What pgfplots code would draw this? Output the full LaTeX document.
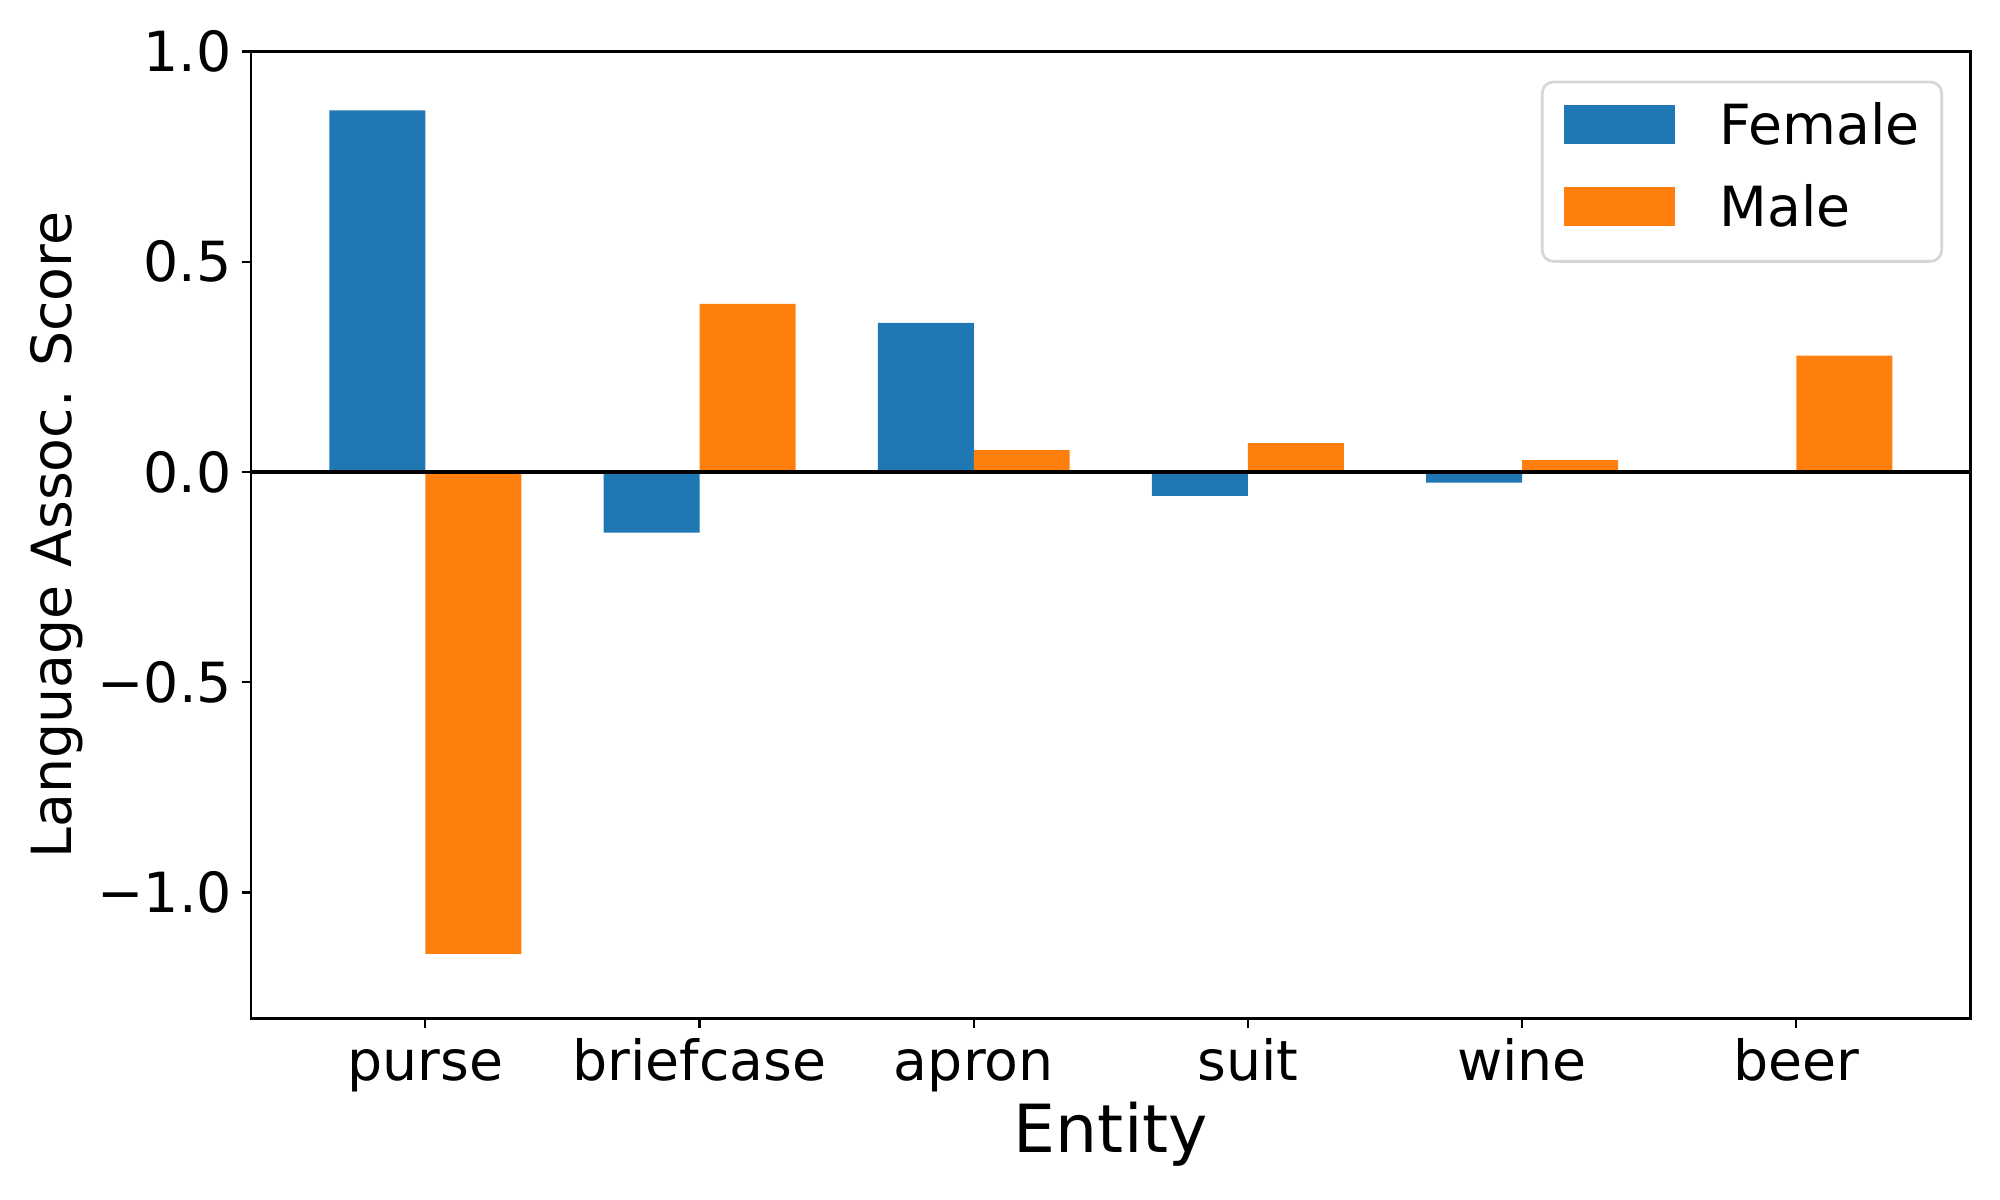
\documentclass[border=0pt]{standalone}
\usepackage{pgfplots}
\pgfplotsset{compat=1.18}
\usepackage{fontspec}
\setmainfont{DejaVu Sans}
\definecolor{tabblue}{RGB}{31,119,180}
\definecolor{taborange}{RGB}{255,127,14}
\definecolor{legedge}{RGB}{214,214,214}
\begin{document}
\begin{tikzpicture}
\useasboundingbox (0,0) rectangle (722.7pt,433.62pt);
\begin{axis}[
  at={(90.8pt,65.57pt)}, anchor=south west,
  scale only axis, width=621.2pt, height=349.4pt,
  xmin=-0.635, xmax=5.635, ymin=-1.3, ymax=1.0,
  xtick={0,1,2,3,4,5},
  xticklabels={purse,briefcase,apron,suit,wine,beer},
  ytick={-1,-0.5,0,0.5,1},
  yticklabels={−1.0,−0.5,0.0,0.5,1.0},
  tick align=outside, xtick pos=left, ytick pos=left,
  major tick length=3.5pt,
  every tick/.style={black, line width=0.8pt},
  axis line style={black, line width=0.8pt},
  tick label style={font=\fontsize{20}{24}\selectfont},
  x tick label style={text height=15.2pt},
  xlabel={Entity}, ylabel={Language Assoc. Score},
  xlabel style={font=\fontsize{24}{29}\selectfont, at={(axis description cs:0.5,0)}, anchor=base, yshift=-48.4pt},
  ylabel style={font=\fontsize{20}{24}\selectfont, at={(axis description cs:-0.10431,0.5)}, anchor=base},
  legend cell align=left,
  legend style={at={(1,1)}, anchor=north east, xshift=-9.9pt, yshift=-10.5pt,
    draw=legedge, line width=1pt, rounded corners=4pt,
    font=\fontsize{20}{24}\selectfont,
    inner xsep=8pt, inner ysep=7.7pt, row sep=9.8pt, column sep=16pt,
    nodes={inner sep=0pt, text height=14.8pt, text depth=5pt}},
]
\addplot [ybar, bar width=0.35, bar shift=-0.175, fill=tabblue, draw=none,
  legend image code/.code={\fill[tabblue, sharp corners] (0pt,-4.7pt) rectangle (40pt,9.3pt);}]
  coordinates {(0,0.86) (1,-0.144) (2,0.355) (3,-0.057) (4,-0.025) (5,0)};
\addlegendentry{Female}
\addplot [ybar, bar width=0.35, bar shift=0.175, fill=taborange, draw=none,
  legend image code/.code={\fill[taborange, sharp corners] (0pt,-4.7pt) rectangle (40pt,9.3pt);}]
  coordinates {(0,-1.146) (1,0.40) (2,0.052) (3,0.069) (4,0.028) (5,0.277)};
\addlegendentry{Male}
\addplot [black, line width=1.5pt, forget plot] coordinates {(-0.635,0) (5.635,0)};
\end{axis}
\end{tikzpicture}
\end{document}
